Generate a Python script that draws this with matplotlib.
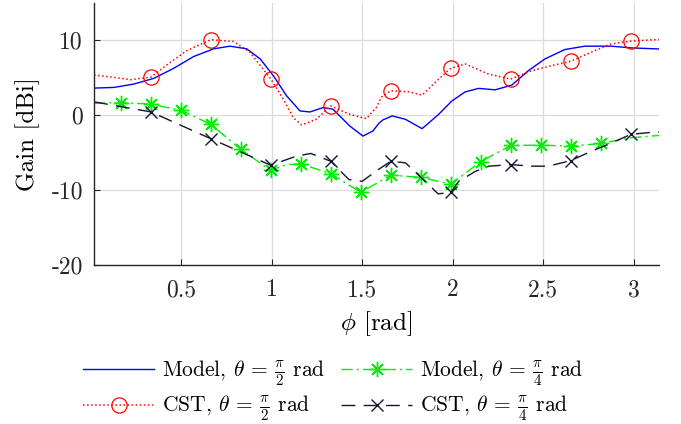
import numpy as np
import matplotlib
matplotlib.use('Agg')
import matplotlib.pyplot as plt

plt.rcParams['font.family'] = 'serif'
plt.rcParams['font.serif'] = ['cmr10']
plt.rcParams['mathtext.fontset'] = 'cm'
plt.rcParams['axes.unicode_minus'] = False
plt.rcParams['axes.formatter.use_mathtext'] = True

# Model, theta = pi/2
model90_phi = [0.018, 0.128, 0.238, 0.348, 0.458, 0.568, 0.678, 0.770, 0.862,
               0.936, 1.009, 1.082, 1.156, 1.211, 1.284, 1.339, 1.431, 1.504,
               1.559, 1.592, 1.614, 1.666, 1.739, 1.831, 1.923, 1.996, 2.070,
               2.143, 2.235, 2.327, 2.418, 2.510, 2.620, 2.731, 2.877, 2.987,
               3.125, 3.140]
model90_gain = [3.63, 3.72, 4.17, 4.93, 6.27, 7.84, 8.87, 9.23, 8.87,
                7.53, 5.28, 2.6, 0.58, 0.44, 1.03, 0.8, -1.43, -2.78,
                -2.1, -1.08, -0.63, -0.09, -0.54, -1.79, 0.13, 1.92, 3.13,
                3.59, 3.4, 4.03, 5.95, 7.53, 8.78, 9.23, 9.23, 9.0,
                8.87, 8.86]

# CST, theta = pi/2
cst90_phi = [0.018, 0.128, 0.220, 0.332, 0.440, 0.531, 0.663, 0.789, 0.880,
             0.995, 1.064, 1.119, 1.165, 1.247, 1.326, 1.431, 1.523, 1.578,
             1.605, 1.658, 1.758, 1.831, 1.923, 1.990, 2.070, 2.198, 2.321,
             2.437, 2.547, 2.653, 2.786, 2.877, 2.985, 3.116, 3.140]
cst90_gain = [5.38, 5.06, 4.75, 5.1, 7.08, 8.64, 10.1, 9.85, 8.42,
              4.84, 2.15, -0.31, -1.3, -0.54, 1.25, 0.13, -0.45, 1.03,
              2.4, 3.27, 3.13, 2.69, 4.84, 6.27, 6.85, 5.5, 4.84,
              5.95, 6.63, 7.22, 8.64, 9.54, 9.9, 10.1, 10.1]

# Model, theta = pi/4
model45_phi = [0.018, 0.166, 0.332, 0.497, 0.663, 0.829, 0.995, 1.079, 1.161,
               1.326, 1.492, 1.658, 1.824, 1.990, 2.155, 2.321, 2.487, 2.653,
               2.819, 2.985, 3.140]
model45_gain = [1.6, 1.7, 1.48, 0.67, -1.2, -4.57, -7.35, -6.6, -6.5,
                -7.8, -10.3, -8.0, -8.3, -9.2, -6.2, -4.03, -3.99, -4.12,
                -3.76, -3.0, -2.7]

# CST, theta = pi/4
cst45_phi = [0.018, 0.332, 0.663, 0.995, 1.134, 1.216, 1.326, 1.427, 1.500,
             1.574, 1.658, 1.740, 1.920, 1.990, 2.033, 2.125, 2.199, 2.321,
             2.437, 2.529, 2.653, 2.767, 2.859, 2.985, 3.116, 3.140]
cst45_gain = [1.79, 0.45, -3.13, -6.68, -5.47, -5.1, -6.14, -8.6, -8.83,
              -7.5, -6.14, -6.36, -10.5, -10.3, -8.83, -7.5, -6.8, -6.59,
              -6.8, -6.8, -6.05, -4.8, -3.9, -2.55, -2.24, -2.24]

# markers every 19 deg for CST, every 9.5 deg for the model
cst_marks = np.deg2rad(np.arange(19, 180, 19))
model_marks = np.deg2rad(np.arange(9.5, 180, 9.5))


def mark_idx(phi, marks):
    phi = np.array(phi)
    return [int(np.argmin(np.abs(phi - m))) for m in marks]


fig = plt.figure(figsize=(6.81, 4.24), dpi=100)
ax = fig.add_axes([0.138, 0.375, 0.830, 0.618])

l1, = ax.plot(model90_phi, model90_gain, '-', color='#0000ff', lw=1.0,
              label=r'Model, $\theta$ = $\frac{\pi}{2}$ rad')
l2, = ax.plot(cst90_phi, cst90_gain, ':', color='#ff0000', lw=1.1,
              marker='o', ms=11, mfc='none', mew=0.9,
              markevery=mark_idx(cst90_phi, cst_marks),
              label=r'CST, $\theta$ = $\frac{\pi}{2}$ rad')
l3, = ax.plot(model45_phi, model45_gain, color='#00ee00', lw=1.0,
              dashes=[8, 3, 1.5, 3], marker=(8, 2, 0), ms=11, mew=1.0,
              markevery=mark_idx(model45_phi, model_marks[:-1]),
              label=r'Model, $\theta$ = $\frac{\pi}{4}$ rad')
l4, = ax.plot(cst45_phi, cst45_gain, color='#141433', lw=1.0,
              dashes=[10, 6], marker='x', ms=8, mew=1.0,
              markevery=mark_idx(cst45_phi, cst_marks),
              label=r'CST, $\theta$ = $\frac{\pi}{4}$ rad')

ax.set_xlim(np.pi / 180, np.pi)
ax.set_ylim(-20, 15)
ax.set_xticks([0.5, 1, 1.5, 2, 2.5, 3])
ax.set_xticklabels(['0.5', '1', '1.5', '2', '2.5', '3'])
ax.set_yticks([-20, -10, 0, 10])
ax.set_yticklabels(['-20', '-10', '0', '10'])
ax.grid(True, color='#dcdcdc', lw=0.9)
ax.set_axisbelow(True)
for s in ['top', 'right']:
    ax.spines[s].set_visible(False)
for s in ['left', 'bottom']:
    ax.spines[s].set_color('#262626')
    ax.spines[s].set_linewidth(1.0)
ax.tick_params(direction='in', length=4, width=0.8, color='#262626',
               labelsize=17, labelcolor='#262626')
ax.tick_params(axis='x', pad=10)
ax.tick_params(axis='y', pad=8)

ax.set_xlabel(r'$\phi$ [rad]', fontsize=18, labelpad=6)
ax.set_ylabel('Gain [dBi]', fontsize=18, labelpad=8)

fig.legend(handles=[l1, l2, l3, l4], loc='center', ncol=2, frameon=False,
           bbox_to_anchor=(333 / 681, 1 - 391 / 424), fontsize=15.5,
           handlelength=3.3, handletextpad=0.35, columnspacing=0.75,
           labelspacing=0.3)

fig.savefig('out.png', dpi=100)
